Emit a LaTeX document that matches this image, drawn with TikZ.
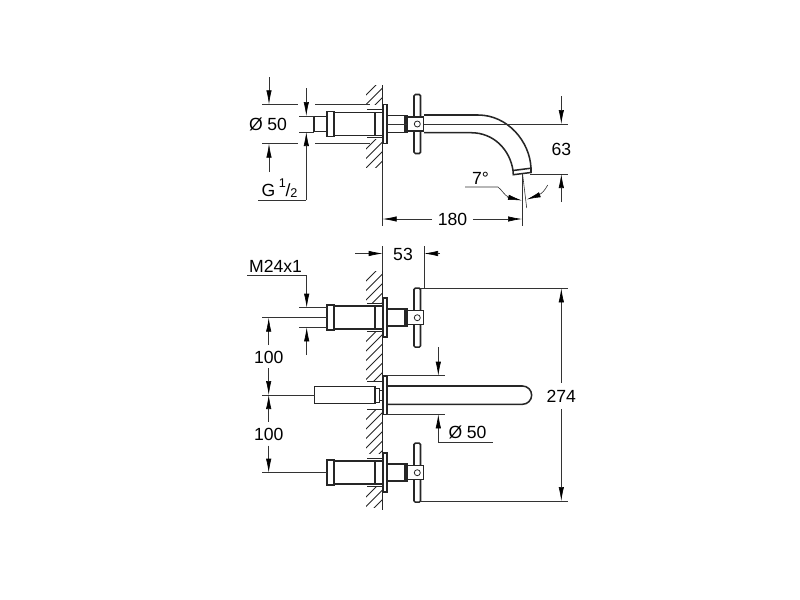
\documentclass[tikz,border=0pt]{standalone}
\usepackage{fontspec}
\setmainfont{Liberation Sans}
\usetikzlibrary{arrows.meta,calc}

\tikzset{
  body/.style={black!85,line width=1.15pt},
  thinbody/.style={black!85,line width=0.6pt},
  dimline/.style={black!80,line width=0.45pt},
  dimarrow/.style={dimline,-{Latex[length=10.5pt,width=4pt,color=black]}},
  dimtext/.style={inner sep=1pt,font=\fontsize{13.2}{15}\selectfont},
}

% hatching left of the wall between two heights
\newcommand{\wallhatch}[2]{
  \begin{scope}
    \clip (366,#1) rectangle (382.5,#2);
    \foreach \k in {0,9.5,...,120}
      \draw[thinbody] (383,#1+\k-7) -- (362,#1+\k+14);
  \end{scope}
}

% one valve with its cross handle
\newcommand{\valve}[1]{
  \begin{scope}[shift={(0,#1)}]
    \draw[body,fill=white] (327,-12.5) rectangle (334,12.5);
    \draw[body] (334,-11.5) -- (375,-11.5) (334,11.5) -- (375,11.5);
    \draw[body] (375,-11.5) rectangle (383,11.5);
    \draw[thinbody] (367,-14.5) -- (383,-14.5) (367,13.5) -- (383,13.5);
    \draw[body,fill=white] (383,-19.5) rectangle (387,19.5);
    \draw[body] (387,-8.5) -- (405,-8.5) (387,8.5) -- (405,8.5);
    \draw[body] (405,-8.5) rectangle (407,8.5);
    \draw[body,fill=white,rounded corners=1pt] (414,-29.5) rectangle (420.5,29.5);
    \draw[body,fill=white] (407,-7) rectangle (423.5,7);
    \draw[thinbody,fill=white] (417.3,0) circle (3);
  \end{scope}
}

\begin{document}
\begin{tikzpicture}[x=0.75pt,y=-0.75pt]
\useasboundingbox (0,0) rectangle (800,600);

% ---- upper view ----
\wallhatch{85}{104}
\wallhatch{139}{167}
\draw[body] (382.7,85) -- (382.7,170);
\valve{124}
\draw[body] (314,116.5) rectangle (327,131.5);
\draw[dimline] (387,124) -- (407,124);

% spout
\path
  (424,115) coordinate (s0)
  (424,132.7) coordinate (s1)
  (513,170.5) coordinate (s2)
  (531,168.2) coordinate (s3)
  (513.3,174.7) coordinate (s4)
  (531,172.5) coordinate (s5);
\draw[body] (s0) -- (478,115) .. controls (508,115) and (530,142) .. (s3);
\draw[body] (s1) -- (471,132.7) .. controls (494,132.7) and (510,150) .. (s2);
\draw[body] (s2) -- (s3) -- (s5) -- (s4) -- cycle;

% dimensions of the upper view
\draw[dimline] (262,104.3) -- (298,104.3) (315,104.3) -- (370,104.3);
\draw[dimline] (262,143.7) -- (298,143.7) (315,143.7) -- (370,143.7);
\draw[dimline] (299,116) -- (314,116) (299,132) -- (314,132);
\draw[dimarrow] (269,77) -- (269,104.3);
\draw[dimarrow] (269,172) -- (269,143.7);
\draw[dimarrow] (306.3,88) -- (306.3,116);
\draw[dimline] (258,200) -- (306.3,200);
\draw[dimarrow] (306.3,200) -- (306.3,132);
\node[dimtext] (dia50a) at (268,124.5) {Ø\hspace{3.5pt}50};
\node[dimtext] (gthread) at (268.5,190.5) {G};
\node[inner sep=0pt,font=\fontsize{9.5}{11}\selectfont] (gone) at (282.5,183) {1};
\node[dimtext,inner sep=0pt] (gslash) at (288,190) {/};
\node[inner sep=0pt,font=\fontsize{9.5}{11}\selectfont] (gtwo) at (294,193.5) {2};

\draw[dimline] (424,124) -- (568,124) (530,174) -- (568,174);
\draw[dimarrow] (561.3,96) -- (561.3,124);
\draw[dimarrow] (561.3,202) -- (561.3,174);
\node[dimtext] (len63) at (561.3,149) {63};

\draw[dimline] (522,174) -- (522,225.5);
\draw[dimline] (522.7,175) -- (526.7,208);
\draw[dimline] (382.7,170) -- (382.7,226);
\node[dimtext,inner sep=4pt] (len180) at (452.5,219) {180};
\draw[dimarrow] (len180.west) -- (382.7,219);
\draw[dimarrow] (len180.east) -- (522,219);

\node[dimtext] (angle7) at (480.5,178) {7°};
\draw[dimline] (465,187) -- (498,187) .. controls (502,190) and (504,195) .. (509,197.5);
\draw[dimarrow] (507,197) -- (522,200.5);
\draw[dimline] (538,195) .. controls (542,194) and (545,190) .. (547.7,185);
\draw[dimarrow] (539,195) -- (526.7,199.5);

% ---- lower view ----
\wallhatch{271}{303.5}
\wallhatch{331.5}{381}
\wallhatch{409.5}{453}
\wallhatch{487}{507}
\draw[body] (382.7,271) -- (382.7,510);
\valve{317.7}
\valve{472.7}

% middle spout
\draw[body] (314.5,386.7) rectangle (375,403.3);
\draw[thinbody] (375.5,388) rectangle (379,402);
\draw[thinbody] (379,390) rectangle (382.5,400);
\draw[thinbody] (367,381.7) -- (383,381.7) (367,409.3) -- (383,409.3);
\draw[body,fill=white] (383,376) rectangle (387,414.3);
\draw[body] (387,386) -- (522.5,386) arc (-90:90:9.15) -- (387,404.3);

% dimensions of the lower view
\draw[dimline] (382.7,246) -- (382.7,271);
\draw[dimline] (424,246) -- (424,289);
\node[dimtext] (len53) at (403,254) {53};
\draw[dimarrow] (355,253.5) -- (382.7,253.5);
\draw[dimarrow] (440,253.5) -- (424,253.5);

\node[dimtext] (mthread) at (275.5,266.5) {M24x1};
\draw[dimline] (247,275) -- (306.7,275);
\draw[dimarrow] (306.7,275) -- (306.7,307.7);
\draw[dimline] (299,307.7) -- (327,307.7) (299,327.3) -- (327,327.3);
\draw[dimarrow] (306.7,355) -- (306.7,327.3);

\draw[dimline] (262,317.7) -- (327,317.7);
\draw[dimline] (262,395) -- (314.5,395);
\draw[dimline] (262,472.7) -- (327,472.7);
\node[dimtext] (dist100a) at (268.7,357) {100};
\node[dimtext] (dist100b) at (268.7,434) {100};
\draw[dimarrow] (268.7,345) -- (268.7,317.7);
\draw[dimarrow] (268.7,368) -- (268.7,395);
\draw[dimarrow] (268.7,421.7) -- (268.7,395);
\draw[dimarrow] (268.7,445.7) -- (268.7,472.7);

\draw[dimline] (387,375.7) -- (445,375.7) (387,414.3) -- (445,414.3);
\draw[dimarrow] (438.3,347) -- (438.3,375.7);
\draw[dimline] (492.7,442.7) -- (438.3,442.7);
\draw[dimarrow] (438.3,442.7) -- (438.3,414.3);
\node[dimtext] (dia50b) at (467.5,432.5) {Ø\hspace{3.5pt}50};

\draw[dimline] (420,288.3) -- (568,288.3) (420,501) -- (568,501);
\node[dimtext,inner sep=5pt] (len274) at (561.3,396) {274};
\draw[dimarrow] (len274.north) -- (561.3,288.3);
\draw[dimarrow] (len274.south) -- (561.3,501);
\end{tikzpicture}
\end{document}
